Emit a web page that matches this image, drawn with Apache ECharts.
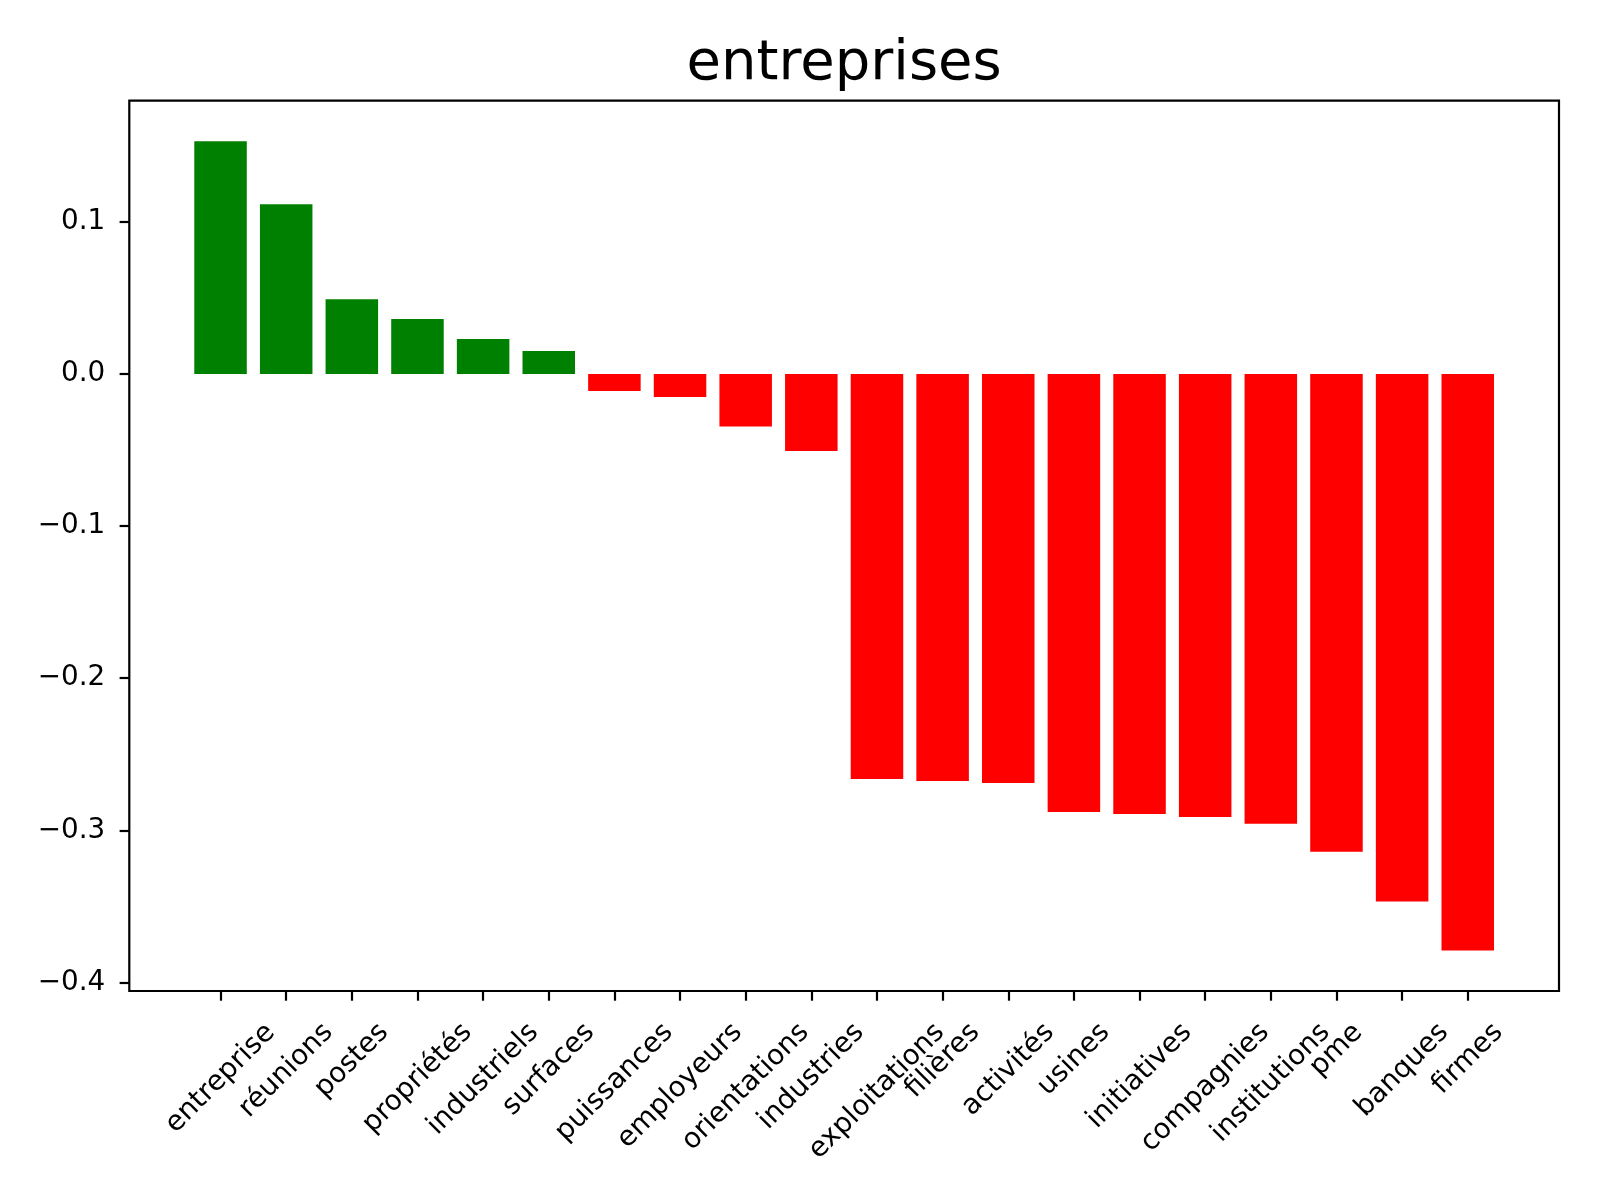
<!DOCTYPE html>
<html>
<head>
<meta charset="utf-8">
<script src="https://cdn.jsdelivr.net/npm/echarts@6/dist/echarts.min.js"></script>
<style>
html, body { margin: 0; padding: 0; background: #fff; }
#main { width: 1600px; height: 1200px; }
</style>
</head>
<body>
<div id="main"></div>
<script>
const titleText = 'entreprises';
const categories = ['entreprise', 'réunions', 'postes', 'propriétés', 'industriels', 'surfaces',
    'puissances', 'employeurs', 'orientations', 'industries', 'exploitations', 'filières',
    'activités', 'usines', 'initiatives', 'compagnies', 'institutions', 'pme', 'banques', 'firmes'];
const values = [0.1530, 0.1116, 0.0491, 0.0361, 0.0230, 0.0151, -0.0112, -0.0151, -0.0346, -0.0506,
    -0.2662, -0.2675, -0.2689, -0.2879, -0.2892, -0.2912, -0.2956, -0.3140, -0.3468, -0.3790];
const yTicks = [-0.4, -0.3, -0.2, -0.1, 0.0, 0.1];

const FONT = 'DejaVu Sans';
const TICK_FS = 27.8;

// axes frame (matplotlib spines)
const frame = { left: 129.3, top: 100.7, right: 1559, bottom: 991 };
const frameW = frame.right - frame.left;

// y range like matplotlib: 5% margin around data
const dMin = Math.min(0, ...values), dMax = Math.max(0, ...values);
const yMin = dMin - (dMax - dMin) * 0.05;
const yMax = dMax + (dMax - dMin) * 0.05;

// x range like matplotlib bars (width 0.8, 5% margin)
const n = categories.length;
const xSpan = (n - 1) + 0.8;
const xMin = -0.4 - xSpan * 0.05;
const xMax = (n - 1) + 0.4 + xSpan * 0.05;
const ppu = frameW / (xMax - xMin);
const bandLeft = frame.left + (-0.5 - xMin) * ppu;

// rotated labels centred under their tick (matplotlib ha='center'):
// pad each label so its text centre drops by half its rotated height
const ctx = document.createElement('canvas').getContext('2d');
ctx.font = TICK_FS + 'px "' + FONT + '"';
const rich = {};
categories.forEach((c, i) => {
    const q = (ctx.measureText(c).width + 29) / 4;
    rich['r' + i] = { padding: [2 * q, 2 * q, 0, 0], fontSize: TICK_FS, fontFamily: FONT, color: '#000' };
});

function fmtY(v) {
    const r = Math.round(v * 10) / 10;
    if (Math.abs(r) < 1e-9) return '0.0';
    return (r < 0 ? '\u2212' : '') + Math.abs(r).toFixed(1);
}

const tickLine = { color: '#000', width: 2.2 };

const chart = echarts.init(document.getElementById('main'));
const option = {
    backgroundColor: '#fff',
    animation: false,
    title: {
        text: titleText,
        left: (frame.left + frame.right) / 2 - 5,
        top: 31,
        textAlign: 'center',
        textStyle: { fontFamily: FONT, fontSize: 56, fontWeight: 'normal', color: '#000' }
    },
    grid: [
        {
            left: frame.left, top: frame.top,
            width: frameW, height: frame.bottom - frame.top,
            show: true, borderColor: '#000', borderWidth: 2.2,
            backgroundColor: 'transparent',
            outerBoundsMode: 'none'
        },
        {
            left: bandLeft, top: frame.top,
            width: n * ppu, height: frame.bottom - frame.top,
            outerBoundsMode: 'none'
        }
    ],
    xAxis: [
        { gridIndex: 0, type: 'value', min: 0, max: 1, show: false },
        {
            gridIndex: 1,
            type: 'category',
            data: categories,
            axisLine: { show: false, onZero: false },
            axisTick: { show: true, alignWithLabel: true, length: 9.7, lineStyle: tickLine },
            axisLabel: {
                interval: 0,
                rotate: 45,
                margin: 27,
                align: 'center',
                verticalAlign: 'middle',
                fontSize: TICK_FS,
                fontFamily: FONT,
                color: '#000',
                rich: rich,
                formatter: (v, i) => '{r' + i + '|' + v + '}'
            },
            splitLine: { show: false }
        }
    ],
    yAxis: [
        {
            gridIndex: 0,
            type: 'value',
            min: yMin,
            max: yMax,
            axisLine: { show: false },
            splitLine: { show: false },
            axisTick: { show: true, length: 9.7, lineStyle: tickLine, customValues: yTicks },
            axisLabel: {
                customValues: yTicks,
                formatter: fmtY,
                margin: 24,
                fontSize: TICK_FS,
                fontFamily: FONT,
                color: '#000'
            }
        },
        { gridIndex: 1, type: 'value', min: yMin, max: yMax, show: false }
    ],
    series: [{
        type: 'bar',
        xAxisIndex: 1,
        yAxisIndex: 1,
        barWidth: '80%',
        data: values,
        itemStyle: {
            color: p => (p.value >= 0 ? '#008000' : '#ff0000')
        }
    }]
};
chart.setOption(option);
</script>
</body>
</html>
